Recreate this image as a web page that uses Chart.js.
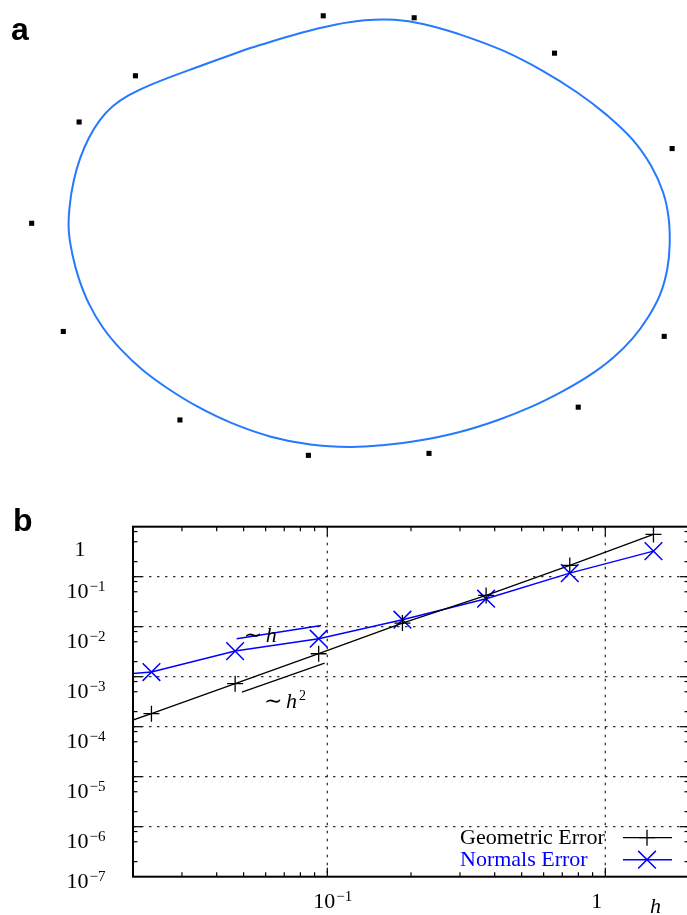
<!DOCTYPE html>
<html>
<head>
<meta charset="utf-8">
<script src="https://cdn.jsdelivr.net/npm/chart.js@4.4.1/dist/chart.umd.min.js"></script>
<style>
  html, body { margin: 0; padding: 0; background: #fff; overflow: hidden; }
  #wrap { position: relative; width: 687px; height: 915px; overflow: hidden; }
  #shape { position: absolute; left: 0; top: 0; }
  #conv { position: absolute; left: 0; top: 480px; }
</style>
</head>
<body>
<div id="wrap">
  <canvas id="shape" width="687" height="480"></canvas>
  <canvas id="conv" width="703" height="435"></canvas>
</div>
<script>
// ---- panel a: limit curve and its control polygon vertices ----
// curve samples run clockwise, starting on the flat upper-left stretch
const curveX = [-1.00, -0.50, -0.15, 0.15, 0.45, 0.75, 1.10, 1.55, 1.95, 2.30,
  2.60, 2.86, 3.05, 3.17, 3.225, 3.235, 3.21, 3.14, 3.02, 2.86,
  2.66, 2.42, 2.15, 1.85, 1.50, 1.10, 0.70, 0.35, 0.00, -0.40,
  -0.80, -1.20, -1.55, -1.85, -2.10, -2.32, -2.50, -2.64, -2.74, -2.805,
  -2.845, -2.835, -2.795, -2.73, -2.64, -2.53, -2.40, -2.24, -2.00, -1.50];
const curveY = [1.905, 2.055, 2.14, 2.185, 2.19, 2.145, 2.045, 1.875, 1.67, 1.45,
  1.22, 0.97, 0.70, 0.43, 0.17, -0.10, -0.35, -0.60, -0.83, -1.05,
  -1.25, -1.43, -1.59, -1.74, -1.88, -2.005, -2.09, -2.135, -2.155, -2.13,
  -2.05, -1.91, -1.74, -1.555, -1.37, -1.16, -0.94, -0.70, -0.45, -0.21,
  0.05, 0.30, 0.55, 0.78, 0.99, 1.17, 1.31, 1.42, 1.535, 1.725];
const ctrlX = [-0.27, 0.65, 2.07, 3.26, 3.18, 2.31, 0.80, -0.42, -1.72, -2.90, -3.22, -2.74, -2.17];
const ctrlY = [2.23, 2.21, 1.85, 0.88, -1.03, -1.75, -2.22, -2.24, -1.88, -0.98, 0.12, 1.15, 1.62];

// ---- panel b: convergence under refinement ----
const hValues   = [1.49, 0.745, 0.3725, 0.1863, 0.0931, 0.0466, 0.0233, 0.01164];
const geomError = [0.70, 0.168, 0.0423, 0.0118, 2.88e-3, 7.24e-4, 1.82e-4, 4.85e-5];
const normError = [0.325, 0.118, 0.0363, 0.0138, 5.75e-3, 3.25e-3, 1.24e-3, 9.0e-4];
const slopeHx  = [0.0472, 0.095];
const slopeHy  = [5.75e-3, 1.06e-2];
const slopeH2x = [0.0493, 0.0978];
const slopeH2y = [4.92e-4, 1.87e-3];
const yTickExp = [0, -1, -2, -3, -4, -5, -6, -7];
const xTickExp = [-1, 0];
const seriesNames = ['Geometric Error', 'Normals Error'];

const SERIF = '"Liberation Serif", "DejaVu Serif", serif';
const MINUS = '\u2212';

function pts(xs, ys) {
  return xs.map((x, i) => ({ x: x, y: ys[i] }));
}

// closed loop: repeat the first vertex so the path returns to its start
const loop = pts(curveX, curveY);
loop.push(loop[0]);

function panelLetter(letter, x, y) {
  return {
    id: 'letter',
    afterDraw(chart) {
      const ctx = chart.ctx;
      ctx.save();
      ctx.font = 'bold 32px "Liberation Sans", Arial, sans-serif';
      ctx.fillStyle = '#000';
      ctx.textBaseline = 'alphabetic';
      ctx.fillText(letter, x, y);
      ctx.restore();
    }
  };
}

new Chart(document.getElementById('shape'), {
  type: 'scatter',
  data: {
    datasets: [
      { data: loop, showLine: true, borderColor: '#2479ff', borderWidth: 2, tension: 0.4,
        pointRadius: 0, fill: false },
      { data: pts(ctrlX, ctrlY), showLine: false, pointStyle: 'rect', pointRadius: 3.6,
        pointBackgroundColor: '#000', pointBorderWidth: 0 }
    ]
  },
  options: {
    responsive: false, animation: false, events: [],
    layout: { padding: 0 },
    plugins: { legend: { display: false }, tooltip: { enabled: false } },
    scales: {
      x: { type: 'linear', min: -3.5, max: 3.37, display: false },
      y: { type: 'linear', min: -2.45, max: 2.35, display: false }
    }
  },
  plugins: [panelLetter('a', 11, 40)]
});

// "10" with a raised negative exponent, or plain "1"
function drawPow(ctx, exp, x, y, align) {
  const main = '22px ' + SERIF, small = '15px ' + SERIF;
  ctx.textAlign = 'left';
  ctx.textBaseline = 'alphabetic';
  if (exp === 0) {
    ctx.font = main;
    const w = ctx.measureText('1').width;
    ctx.fillText('1', align === 'center' ? x - w / 2 : x, y);
    return;
  }
  const sup = (exp < 0 ? MINUS : '') + Math.abs(exp);
  ctx.font = main;
  const wb = ctx.measureText('10').width;
  ctx.font = small;
  const ws = ctx.measureText(sup).width;
  const x0 = align === 'center' ? x - (wb + 1 + ws) / 2 : x;
  ctx.font = main;
  ctx.fillText('10', x0, y);
  ctx.font = small;
  ctx.fillText(sup, x0 + wb + 1, y - 7);
}

function line(ctx, x1, y1, x2, y2) {
  ctx.beginPath();
  ctx.moveTo(x1, y1);
  ctx.lineTo(x2, y2);
  ctx.stroke();
}

const logFrame = {
  id: 'logFrame',
  beforeDatasetsDraw(chart) {
    const { ctx, chartArea: a, scales: { x, y } } = chart;
    ctx.save();
    ctx.strokeStyle = '#333';
    ctx.lineWidth = 1.3;
    ctx.setLineDash([2.5, 5.5]);
    yTickExp.forEach(e => {
      const py = y.getPixelForValue(Math.pow(10, e));
      if (py > a.top + 1 && py < a.bottom - 1) line(ctx, a.left, py, a.right, py);
    });
    xTickExp.forEach(e => {
      const px = x.getPixelForValue(Math.pow(10, e));
      line(ctx, px, a.top, px, a.bottom);
    });
    ctx.restore();
  },
  afterDatasetsDraw(chart) {
    const { ctx, chartArea: a, scales: { x, y } } = chart;
    ctx.save();
    ctx.strokeStyle = '#000';
    ctx.fillStyle = '#000';

    // inward ticks on all four sides
    ctx.lineWidth = 1.2;
    for (let e = -7; e < 0; e++) {
      [[1, 9], [2, 4.5], [5, 4.5], [8, 4.5]].forEach(([k, len]) => {
        const py = y.getPixelForValue(k * Math.pow(10, e));
        if (py <= a.top + 1 || py >= a.bottom - 1) return;
        line(ctx, a.left, py, a.left + len, py);
        line(ctx, a.right, py, a.right - len, py);
      });
    }
    for (let e = -2; e <= 0; e++) {
      for (let k = 1; k <= 9; k++) {
        const v = k * Math.pow(10, e);
        if (v <= x.min * 1.001 || v >= x.max * 0.999) continue;
        const px = x.getPixelForValue(v);
        const len = k === 1 ? 9 : 4.5;
        line(ctx, px, a.bottom, px, a.bottom - len);
        line(ctx, px, a.top, px, a.top + len);
      }
    }

    // frame
    ctx.lineWidth = 2;
    ctx.strokeRect(a.left, a.top, a.right - a.left, a.bottom - a.top);

    // tick labels
    yTickExp.forEach(e => {
      const py = y.getPixelForValue(Math.pow(10, e));
      const base = Math.min(Math.max(py + 21, a.top + 29), a.bottom + 11);
      drawPow(ctx, e, e === 0 ? 80 : 86, base, 'center');
    });
    xTickExp.forEach(e => {
      const px = x.getPixelForValue(Math.pow(10, e));
      drawPow(ctx, e, px - 14, a.bottom + 31, 'left');
    });
    ctx.font = 'italic 22px ' + SERIF;
    ctx.textAlign = 'left';
    ctx.fillText('h', a.right - 39, a.bottom + 36);

    // slope guides
    const sh = chart.getDatasetMeta(2).data[0];
    ctx.fillStyle = '#000';
    ctx.font = '22px ' + SERIF;
    ctx.fillText('\u223C', sh.x + 7, sh.y + 3.5);
    ctx.font = 'italic 22px ' + SERIF;
    ctx.fillText('h', sh.x + 29, sh.y + 3.5);
    const sh2 = chart.getDatasetMeta(3).data[0];
    ctx.font = '22px ' + SERIF;
    ctx.fillText('\u223C', sh2.x + 22, sh2.y + 16);
    ctx.font = 'italic 22px ' + SERIF;
    ctx.fillText('h', sh2.x + 44, sh2.y + 16);
    ctx.font = '14px ' + SERIF;
    ctx.fillText('2', sh2.x + 57, sh2.y + 8);

    // legend, bottom right inside the frame
    ctx.font = '22px ' + SERIF;
    [0, 1].forEach(i => {
      const ds = chart.data.datasets[i];
      const rowY = a.bottom - 39 + i * 22;
      ctx.fillStyle = ds.borderColor;
      ctx.textBaseline = 'middle';
      ctx.fillText(seriesNames[i], a.right - 229, rowY + 1);
      ctx.strokeStyle = ds.borderColor;
      ctx.lineWidth = ds.borderWidth;
      line(ctx, a.right - 66, rowY, a.right - 17, rowY);
      Chart.helpers.drawPoint(ctx, {
        pointStyle: ds.pointStyle, radius: ds.pointRadius, rotation: 0,
        borderWidth: ds.pointBorderWidth
      }, a.right - 42, rowY);
    });
    ctx.restore();
  }
};

new Chart(document.getElementById('conv'), {
  type: 'scatter',
  data: {
    datasets: [
      { label: seriesNames[0], data: pts(hValues, geomError), showLine: true,
        borderColor: '#000', borderWidth: 1.3, pointStyle: 'cross', pointRadius: 8,
        pointBorderColor: '#000', pointBorderWidth: 1.3, clip: 0 },
      { label: seriesNames[1], data: pts(hValues, normError), showLine: true,
        borderColor: '#0000ff', borderWidth: 1.5, pointStyle: 'crossRot', pointRadius: 12.5,
        pointBorderColor: '#0000ff', pointBorderWidth: 1.5, clip: 0 },
      { data: pts(slopeHx, slopeHy), showLine: true, borderColor: '#0000ff', borderWidth: 1.5,
        pointRadius: 0, clip: 0 },
      { data: pts(slopeH2x, slopeH2y), showLine: true, borderColor: '#000', borderWidth: 1.3,
        pointRadius: 0, clip: 0 }
    ]
  },
  options: {
    responsive: false, animation: false, events: [],
    // the right edge of the frame sits just past the visible page
    layout: { padding: { left: 133, top: 46.7, right: 14, bottom: 38.3 } },
    plugins: { legend: { display: false }, tooltip: { enabled: false } },
    scales: {
      x: { type: 'logarithmic', min: 0.02, max: 2, display: false },
      y: { type: 'logarithmic', min: 1e-7, max: 1, display: false }
    }
  },
  plugins: [logFrame, panelLetter('b', 13, 51)]
});
</script>
</body>
</html>
